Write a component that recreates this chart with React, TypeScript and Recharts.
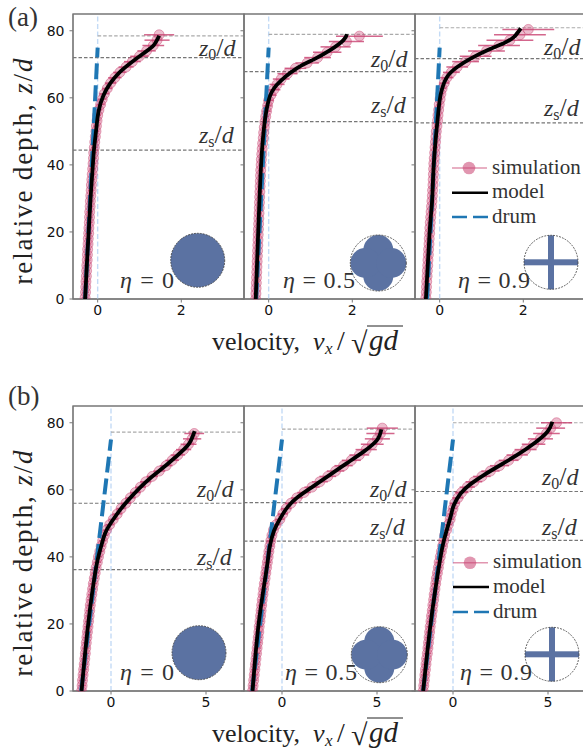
import { ScatterChart, Scatter, ErrorBar, XAxis, YAxis, ReferenceLine, ReferenceArea } from 'recharts';

// sampled depths of the simulation bins
const gridA = [
  0.4, 2, 3.6, 5.2, 6.8, 8.4, 10, 11.6, 13.2, 14.8, 16.4, 18, 19.6, 21.2, 22.8, 24.4, 26, 27.6, 29.2, 30.8, 32.4, 34, 35.6, 37.2, 38.8,
  40.4, 42, 43.6, 45.2, 46.8, 48.4, 50, 51.6, 53.2, 54.8, 56.4, 58, 59.6, 61.2, 62.8, 64.4, 66, 67.6, 69.2, 70.8, 72.4, 74, 75.6, 77.2, 78.8, 80.4,
];
const gridB = [
  0, 1.6, 3.2, 4.8, 6.4, 8, 9.6, 11.2, 12.8, 14.4, 16, 17.6, 19.2, 20.8, 22.4, 24, 25.6, 27.2, 28.8, 30.4, 32, 33.6, 35.2, 36.8, 38.4,
  40, 41.6, 43.2, 44.8, 46.4, 48, 49.6, 51.2, 52.8, 54.4, 56, 57.6, 59.2, 60.8, 62.4, 64, 65.6, 67.2, 68.8, 70.4, 72, 73.6, 75.2, 76.8, 78.4, 80,
];

// simulation velocities
const simA1 = [
  -0.3, -0.29, -0.285, -0.28, -0.27, -0.265, -0.26, -0.25, -0.245, -0.24, -0.23, -0.225, -0.215, -0.21, -0.2, -0.195, -0.19, -0.18, -0.175, -0.165,
  -0.155, -0.15, -0.14, -0.13, -0.12, -0.11, -0.1, -0.095, -0.08, -0.07, -0.055, -0.04, -0.03, -0.015, 0, 0.03, 0.07, 0.11, 0.16, 0.23,
  0.31, 0.41, 0.53, 0.68, 0.83, 1.0, 1.17, 1.33, 1.42, 1.47,
];
const simA2 = [
  -0.31, -0.305, -0.3, -0.295, -0.29, -0.285, -0.28, -0.275, -0.27, -0.265, -0.26, -0.255, -0.25, -0.245, -0.24, -0.235, -0.23, -0.225, -0.22, -0.215,
  -0.21, -0.205, -0.2, -0.195, -0.19, -0.18, -0.175, -0.165, -0.155, -0.145, -0.13, -0.12, -0.105, -0.09, -0.07, -0.05, -0.025, 0, 0.05, 0.12,
  0.2, 0.3, 0.45, 0.64, 0.92, 1.17, 1.4, 1.6, 1.86, 2.17,
];
const simA3 = [
  -0.33, -0.32, -0.315, -0.31, -0.3, -0.295, -0.285, -0.28, -0.27, -0.265, -0.255, -0.25, -0.24, -0.235, -0.225, -0.215, -0.205, -0.195, -0.185, -0.175,
  -0.17, -0.16, -0.155, -0.15, -0.145, -0.14, -0.13, -0.12, -0.11, -0.1, -0.09, -0.08, -0.065, -0.05, -0.04, -0.025, -0.01, 0.01, 0.03, 0.06,
  0.11, 0.17, 0.28, 0.42, 0.62, 0.86, 1.12, 1.42, 1.68, 1.92, 2.12,
];
const simB1 = [
  -1.55, -1.52, -1.5, -1.47, -1.44, -1.41, -1.38, -1.35, -1.33, -1.3, -1.27, -1.24, -1.21, -1.18, -1.15, -1.12, -1.09, -1.05, -1.01, -0.97,
  -0.93, -0.88, -0.83, -0.78, -0.72, -0.66, -0.59, -0.52, -0.44, -0.35, -0.24, -0.07, 0.12, 0.33, 0.53, 0.78, 1.02, 1.28, 1.55, 1.83,
  2.17, 2.54, 2.9, 3.22, 3.52, 3.82, 4.08, 4.27, 4.38,
];
const simB2 = [
  -1.55, -1.52, -1.49, -1.46, -1.43, -1.4, -1.37, -1.34, -1.31, -1.28, -1.25, -1.22, -1.2, -1.16, -1.13, -1.1, -1.07, -1.04, -1.0, -0.97,
  -0.93, -0.89, -0.85, -0.81, -0.77, -0.73, -0.69, -0.64, -0.59, -0.53, -0.45, -0.31, -0.11, 0.04, 0.22, 0.47, 0.78, 1.16, 1.58, 1.99,
  2.41, 2.82, 3.24, 3.65, 4.07, 4.43, 4.75, 5.02, 5.18, 5.28,
];
const simB3 = [
  -1.57, -1.54, -1.51, -1.48, -1.45, -1.42, -1.39, -1.35, -1.32, -1.29, -1.26, -1.23, -1.2, -1.16, -1.13, -1.09, -1.06, -1.02, -0.99, -0.95,
  -0.91, -0.87, -0.82, -0.77, -0.73, -0.67, -0.61, -0.55, -0.49, -0.44, -0.34, -0.25, -0.15, -0.09, 0, 0.09, 0.26, 0.45, 0.75, 1.1,
  1.52, 1.97, 2.45, 2.93, 3.38, 3.82, 4.24, 4.6, 4.92, 5.14, 5.45,
];

// half widths of the horizontal error bars
const errA1 = [
  0.08, 0.08, 0.08, 0.08, 0.08, 0.08, 0.08, 0.08, 0.08, 0.08, 0.08, 0.08, 0.08, 0.08, 0.08, 0.08, 0.08, 0.08, 0.08, 0.08,
  0.08, 0.08, 0.08, 0.08, 0.08, 0.08, 0.08, 0.08, 0.08, 0.08, 0.08, 0.08, 0.08, 0.08, 0.08, 0.08, 0.1, 0.1, 0.12, 0.12,
  0.14, 0.16, 0.16, 0.18, 0.2, 0.22, 0.22, 0.26, 0.3, 0.36,
];
const errA2 = [
  0.07, 0.07, 0.07, 0.07, 0.07, 0.07, 0.07, 0.07, 0.07, 0.07, 0.07, 0.07, 0.07, 0.07, 0.07, 0.07, 0.07, 0.07, 0.07, 0.07,
  0.07, 0.07, 0.07, 0.07, 0.07, 0.07, 0.07, 0.07, 0.07, 0.07, 0.07, 0.07, 0.07, 0.07, 0.08, 0.1, 0.1, 0.12, 0.14, 0.16,
  0.18, 0.2, 0.24, 0.26, 0.28, 0.32, 0.34, 0.36, 0.42, 0.56,
];
const errA3 = [
  0.07, 0.07, 0.07, 0.07, 0.07, 0.07, 0.07, 0.07, 0.07, 0.07, 0.07, 0.07, 0.07, 0.07, 0.07, 0.07, 0.07, 0.07, 0.07, 0.07,
  0.07, 0.07, 0.07, 0.07, 0.07, 0.07, 0.07, 0.07, 0.07, 0.07, 0.07, 0.07, 0.07, 0.07, 0.07, 0.07, 0.07, 0.07, 0.08, 0.1,
  0.12, 0.16, 0.2, 0.26, 0.32, 0.38, 0.44, 0.5, 0.56, 0.62, 0.62,
];
const errB1 = [
  0.2, 0.2, 0.2, 0.2, 0.2, 0.2, 0.2, 0.2, 0.2, 0.2, 0.2, 0.2, 0.2, 0.2, 0.2, 0.2, 0.2, 0.2, 0.2, 0.2,
  0.2, 0.2, 0.2, 0.2, 0.2, 0.2, 0.2, 0.2, 0.2, 0.2, 0.2, 0.22, 0.22, 0.24, 0.24, 0.26, 0.26, 0.28, 0.28, 0.3,
  0.3, 0.32, 0.34, 0.36, 0.38, 0.4, 0.42, 0.48, 0.52,
];
const errB2 = [
  0.2, 0.2, 0.2, 0.2, 0.2, 0.2, 0.2, 0.2, 0.2, 0.2, 0.2, 0.2, 0.2, 0.2, 0.2, 0.2, 0.2, 0.2, 0.2, 0.2,
  0.2, 0.2, 0.2, 0.2, 0.2, 0.2, 0.2, 0.2, 0.2, 0.2, 0.2, 0.22, 0.24, 0.26, 0.28, 0.3, 0.32, 0.36, 0.4, 0.42,
  0.44, 0.46, 0.48, 0.5, 0.52, 0.56, 0.6, 0.66, 0.74, 0.82,
];
const errB3 = [
  0.2, 0.2, 0.2, 0.2, 0.2, 0.2, 0.2, 0.2, 0.2, 0.2, 0.2, 0.2, 0.2, 0.2, 0.2, 0.2, 0.2, 0.2, 0.2, 0.2,
  0.2, 0.2, 0.2, 0.2, 0.2, 0.2, 0.2, 0.2, 0.2, 0.2, 0.2, 0.2, 0.2, 0.2, 0.22, 0.26, 0.3, 0.36, 0.4, 0.44,
  0.46, 0.48, 0.5, 0.52, 0.56, 0.58, 0.62, 0.66, 0.7, 0.76, 0.82,
];

// model curves, [velocity, depth]
const modelA1 = [[-0.3, 0], [-0.26, 10], [-0.215, 20], [-0.17, 30], [-0.115, 40], [-0.085, 45], [-0.04, 50], [0.02, 55.9], [0.14, 60.8], [0.3, 64.3], [0.5, 67.3], [0.78, 70.3], [1.1, 73.3], [1.34, 75.7], [1.47, 78.5]];
const modelA2 = [[-0.31, 0], [-0.25, 20], [-0.22, 29.5], [-0.17, 42.4], [-0.09, 53.3], [0, 59.3], [0.19, 63.8], [0.67, 68.8], [1.07, 71.4], [1.47, 74.2], [1.79, 77.2], [1.87, 79]];
const modelA3 = [[-0.33, 0], [-0.24, 20], [-0.18, 29.5], [-0.14, 40.4], [-0.06, 52.3], [0, 59.3], [0.06, 62.8], [0.18, 66.3], [0.42, 69.2], [0.74, 71.7], [1.14, 74.2], [1.52, 76.2], [1.78, 78.2], [1.94, 80.7]];
const modelB1 = [[-1.55, 0], [-1.2, 20], [-0.81, 36], [-0.58, 41.9], [-0.32, 46.9], [0, 50.2], [0.42, 53.6], [0.92, 57], [1.5, 60.5], [2.15, 63.9], [2.85, 67.1], [3.52, 70.4], [4.1, 73.7], [4.4, 77.5]];
const modelB2 = [[-1.55, 0], [-1.23, 20], [-0.82, 36], [-0.65, 42.9], [-0.42, 47.8], [-0.09, 51.5], [0.3, 54.9], [0.85, 57.9], [1.6, 60.9], [2.5, 64.4], [3.4, 67.9], [4.3, 71.4], [5, 74.8], [5.23, 78]];
const modelB3 = [[-1.57, 0], [-1.18, 20], [-0.76, 36.5], [-0.48, 44.9], [-0.13, 51.9], [0.04, 55.4], [0.4, 58.9], [0.92, 61.7], [1.62, 64.4], [2.5, 67.4], [3.38, 70.4], [4.26, 73.8], [4.97, 77.3], [5.23, 80.3]];

const drumA = [[-0.3, 0], [0, 75]];
const drumB = [[-1.57, 0], [0, 75]];

const depthTicks = [0, 20, 40, 60, 80];
const velocityTicksA = [0, 2];
const velocityTicksB = [0, 5];
const etaLabels = ['0', '0.5', '0.9'];
const legendNames = ['simulation', 'model', 'drum'];

const toRows = (pairs: number[][]) => pairs.map(([v, z]) => ({ v, z }));
const simRows = (grid: number[], vals: number[], errs: number[]) =>
  vals.map((v, i) => ({ v, z: grid[i], err: errs[i] }));

const PLOT_W = 171;
const PLOT_H = 285;
const SPACE_LEFT = 40;
const SPACE_TOP = 5;
const lefts = [73, 243.9, 414.6];

const panels = [
  { left: lefts[0], top: 14, domain: [-0.59, 3.5], ticks: velocityTicksA, sim: simRows(gridA, simA1, errA1), model: modelA1, drum: drumA, surface: 78.5, z0: 72, zs: 44.4 },
  { left: lefts[1], top: 14, domain: [-0.59, 3.5], ticks: velocityTicksA, sim: simRows(gridB, simA2, errA2), model: modelA2, drum: drumA, surface: 78.9, z0: 67.8, zs: 52.9 },
  { left: lefts[2], top: 14, domain: [-0.59, 3.5], ticks: velocityTicksA, sim: simRows(gridA, simA3, errA3), model: modelA3, drum: drumA, surface: 80.9, z0: 71.7, zs: 52.5 },
  { left: lefts[0], top: 405.7, domain: [-2, 7], ticks: velocityTicksB, sim: simRows(gridB, simB1, errB1), model: modelB1, drum: drumB, surface: 77.2, z0: 56, zs: 36.2 },
  { left: lefts[1], top: 405.7, domain: [-2, 7], ticks: velocityTicksB, sim: simRows(gridB, simB2, errB2), model: modelB2, drum: drumB, surface: 78.1, z0: 56.2, zs: 44.7 },
  { left: lefts[2], top: 405.7, domain: [-2, 7], ticks: velocityTicksB, sim: simRows(gridB, simB3, errB3), model: modelB3, drum: drumB, surface: 80, z0: 59.5, zs: 44.9 },
];

const PINK = '#c8406f';
const BLUE = '#1f77b4';
const SHAPE = '#5b72a2';
const MATH = '"Liberation Serif", serif';

const SimDot = (p: any) => (
  <circle cx={p.cx} cy={p.cy} r={5} fill={PINK} fillOpacity={0.35} stroke={PINK} strokeOpacity={0.45} strokeWidth={1} />
);
const NoDot = () => <g />;

function Panel({ p, first }: { p: (typeof panels)[number]; first: boolean }) {
  return (
    <div style={{ position: 'absolute', left: p.left - SPACE_LEFT, top: p.top - SPACE_TOP }}>
      <ScatterChart
        width={SPACE_LEFT + PLOT_W + 5}
        height={SPACE_TOP + PLOT_H + 30}
        margin={{ top: SPACE_TOP, right: 5, bottom: 0, left: 0 }}
      >
        <XAxis
          type="number"
          dataKey="v"
          domain={p.domain}
          ticks={p.ticks}
          allowDataOverflow
          height={30}
          tickSize={3.5}
          tickMargin={3}
          stroke="#777"
          tick={{ fill: '#111', fontSize: 14, fontFamily: '"DejaVu Sans"' }}
        />
        <YAxis
          type="number"
          dataKey="z"
          domain={[0, 85]}
          ticks={depthTicks}
          allowDataOverflow
          width={SPACE_LEFT}
          tickSize={3.5}
          tickMargin={5}
          stroke="#777"
          tickFormatter={(t: number) => (first ? String(t) : '')}
          tick={{ fill: '#111', fontSize: 14, fontFamily: '"DejaVu Sans"' }}
        />
        <ReferenceArea x1={p.domain[0]} x2={p.domain[1]} y1={0} y2={85} fill="none" stroke="#777" strokeWidth={1.3} />
        <ReferenceLine x={0} stroke="#c4dbf6" strokeWidth={1.4} strokeDasharray="5 2.5" />
        <ReferenceLine segment={[{ x: 0, y: p.surface }, { x: p.domain[1], y: p.surface }]} stroke="#aaa" strokeWidth={1.2} strokeDasharray="3.5 2" />
        <ReferenceLine y={p.z0} stroke="#777" strokeWidth={1.2} strokeDasharray="3.5 2" />
        <ReferenceLine y={p.zs} stroke="#777" strokeWidth={1.2} strokeDasharray="3.5 2" />
        <Scatter name={legendNames[0]} data={p.sim} shape={SimDot} isAnimationActive={false}>
          <ErrorBar dataKey="err" direction="x" width={0} stroke={PINK} strokeOpacity={0.8} strokeWidth={1.5} isAnimationActive={false} />
        </Scatter>
        <Scatter
          name={legendNames[2]}
          data={toRows(p.drum)}
          shape={NoDot}
          line={{ stroke: BLUE, strokeWidth: 4, strokeDasharray: '16 6' }}
          isAnimationActive={false}
        />
        <Scatter
          name={legendNames[1]}
          data={toRows(p.model)}
          shape={NoDot}
          line={{ stroke: '#000', strokeWidth: 3.8 }}
          lineJointType="natural"
          isAnimationActive={false}
        />
      </ScatterChart>
    </div>
  );
}

function ZLabel({ x, y, sub }: { x: number; y: number; sub: string }) {
  return (
    <text x={x} y={y} fontFamily={MATH} fontSize={24} fill="#333">
      <tspan fontStyle="italic">z</tspan>
      <tspan fontSize={16} dy={4}>{sub}</tspan>
      <tspan dy={-4} fontSize={26}>/</tspan>
      <tspan fontStyle="italic">d</tspan>
    </text>
  );
}

function EtaLabel({ x, y, value }: { x: number; y: number; value: string }) {
  return (
    <text x={x} y={y} fontFamily={MATH} fontSize={24} fill="#333" textLength={value.length > 1 ? 72 : 54}>
      <tspan fontStyle="italic">η</tspan> = {value}
    </text>
  );
}

function Drum({ cx, cy, kind }: { cx: number; cy: number; kind: number }) {
  const r = kind === 1 ? 28 : 27;
  return (
    <g>
      {kind === 0 && <circle cx={cx} cy={cy} r={r} fill={SHAPE} />}
      {kind === 1 && (
        <g fill={SHAPE}>
          <circle cx={cx} cy={cy - 13} r={15} />
          <circle cx={cx} cy={cy + 13} r={15} />
          <circle cx={cx - 13} cy={cy} r={15} />
          <circle cx={cx + 13} cy={cy} r={15} />
        </g>
      )}
      {kind === 2 && (
        <g fill={SHAPE}>
          <rect x={cx - 3} y={cy - r} width={6} height={2 * r} />
          <rect x={cx - r} y={cy - 3} width={2 * r} height={6} />
        </g>
      )}
      <circle cx={cx} cy={cy} r={r} fill="none" stroke="#444" strokeWidth={0.9} strokeDasharray="1.8 1.2" />
    </g>
  );
}

function LegendBlock({ x, ys }: { x: number; ys: number[] }) {
  return (
    <g>
      <line x1={x} x2={x + 35} y1={ys[0]} y2={ys[0]} stroke={PINK} strokeOpacity={0.55} strokeWidth={1.6} />
      <circle cx={x + 17} cy={ys[0]} r={6.3} fill={PINK} fillOpacity={0.55} />
      <line x1={x} x2={x + 36} y1={ys[1]} y2={ys[1]} stroke="#000" strokeWidth={2.6} />
      <line x1={x} x2={x + 36} y1={ys[2]} y2={ys[2]} stroke={BLUE} strokeWidth={2.6} strokeDasharray="15 6" />
      {legendNames.map((name, i) => (
        <text key={name} x={x + 40} y={ys[i] + 5.5} fontFamily={MATH} fontSize={21} fill="#333">{name}</text>
      ))}
    </g>
  );
}

function XTitle({ y }: { y: number }) {
  return (
    <g fontFamily={MATH} fill="#222">
      <text x={212} y={y} fontSize={26} textLength={88}>velocity,</text>
      <text x={313} y={y} fontSize={26} fontStyle="italic">v</text>
      <text x={325} y={y + 4} fontSize={17} fontStyle="italic">x</text>
      <text x={337} y={y} fontSize={28}>/</text>
      <text x={351} y={y + 3} fontSize={30}>√</text>
      <line x1={367} x2={403} y1={y - 24} y2={y - 24} stroke="#222" strokeWidth={1} />
      <text x={369} y={y} fontSize={29} fontStyle="italic">gd</text>
    </g>
  );
}

function YTitle({ cy }: { cy: number }) {
  return (
    <text transform={`translate(32 ${cy}) rotate(-90)`} textAnchor="middle" fontFamily={MATH} fontSize={27} fill="#222" textLength={226}>
      relative depth, <tspan fontStyle="italic">z</tspan>/<tspan fontStyle="italic">d</tspan>
    </text>
  );
}

export default function App() {
  return (
    <div style={{ position: 'absolute', left: 0, top: 0, width: 583, height: 751, overflow: 'hidden', background: '#fff' }}>
      {panels.map((p, i) => (
        <Panel key={i} p={p} first={i % 3 === 0} />
      ))}
      <svg width={583} height={751} style={{ position: 'absolute', left: 0, top: 0, pointerEvents: 'none' }}>
        <text x={8} y={26} fontFamily={MATH} fontSize={27} fill="#333">(a)</text>
        <text x={8} y={405} fontFamily={MATH} fontSize={27} fill="#333">(b)</text>
        <YTitle cy={171.5} />
        <YTitle cy={563.5} />
        <XTitle y={350} />
        <XTitle y={742} />

        <ZLabel x={199} y={56} sub="0" />
        <ZLabel x={199} y={143} sub="s" />
        <ZLabel x={371} y={67} sub="0" />
        <ZLabel x={371} y={113} sub="s" />
        <ZLabel x={544} y={55} sub="0" />
        <ZLabel x={544} y={116} sub="s" />
        <ZLabel x={197} y={497} sub="0" />
        <ZLabel x={197} y={565} sub="s" />
        <ZLabel x={370} y={497} sub="0" />
        <ZLabel x={370} y={535} sub="s" />
        <ZLabel x={542} y={485} sub="0" />
        <ZLabel x={542} y={535} sub="s" />

        <EtaLabel x={120} y={288} value={etaLabels[0]} />
        <EtaLabel x={283} y={288} value={etaLabels[1]} />
        <EtaLabel x={458} y={288} value={etaLabels[2]} />
        <EtaLabel x={120} y={680} value={etaLabels[0]} />
        <EtaLabel x={285} y={680} value={etaLabels[1]} />
        <EtaLabel x={460} y={680} value={etaLabels[2]} />

        <Drum cx={197.7} cy={260.3} kind={0} />
        <Drum cx={378.3} cy={263} kind={1} />
        <Drum cx={551} cy={262.3} kind={2} />
        <Drum cx={199} cy={652.7} kind={0} />
        <Drum cx={379.3} cy={654.7} kind={1} />
        <Drum cx={552} cy={654.3} kind={2} />

        <LegendBlock x={452} ys={[168, 192.7, 217]} />
        <LegendBlock x={453} ys={[562.7, 587, 612]} />
      </svg>
    </div>
  );
}
